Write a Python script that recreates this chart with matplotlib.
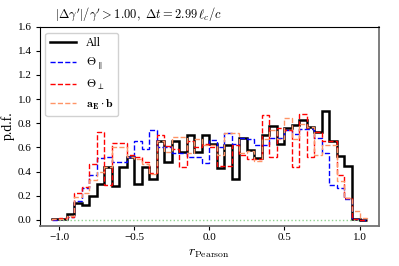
import numpy as np
import matplotlib
matplotlib.use("Agg")
import matplotlib.pyplot as plt

plt.rcParams['font.family'] = 'serif'
plt.rcParams['font.serif'] = ['Liberation Serif', 'DejaVu Serif']
plt.rcParams['mathtext.fontset'] = 'cm'
plt.rcParams['axes.unicode_minus'] = True

# bin edges of the histograms (width 0.05)
edges = np.linspace(-1.05, 1.05, 43)

pdf_all = [0.005, 0.01, 0.045, 0.14, 0.12, 0.20, 0.30, 0.44, 0.28, 0.44,
           0.52, 0.30, 0.44, 0.34, 0.65, 0.48, 0.65, 0.56, 0.70, 0.56,
           0.70, 0.63, 0.43, 0.62, 0.34, 0.675, 0.58, 0.51, 0.70, 0.78,
           0.63, 0.76, 0.785, 0.83, 0.77, 0.73, 0.90, 0.65, 0.53, 0.45,
           0.005, 0.0]
pdf_par = [0.0, 0.005, 0.02, 0.16, 0.26, 0.37, 0.51, 0.52, 0.48, 0.48,
           0.52, 0.65, 0.59, 0.74, 0.60, 0.60, 0.55, 0.55, 0.52, 0.52,
           0.47, 0.66, 0.60, 0.72, 0.63, 0.675, 0.67, 0.62, 0.62, 0.675,
           0.675, 0.74, 0.71, 0.75, 0.75, 0.675, 0.55, 0.29, 0.26, 0.17,
           0.01, 0.0]
pdf_perp = [0.005, 0.015, 0.02, 0.22, 0.27, 0.46, 0.73, 0.29, 0.64, 0.64,
            0.54, 0.52, 0.48, 0.39, 0.70, 0.61, 0.59, 0.44, 0.65, 0.60,
            0.63, 0.60, 0.45, 0.45, 0.62, 0.54, 0.50, 0.50, 0.87, 0.52,
            0.76, 0.74, 0.44, 0.88, 0.52, 0.73, 0.65, 0.65, 0.37, 0.18,
            0.01, 0.0]
pdf_aeb = [0.005, 0.01, 0.03, 0.19, 0.22, 0.33, 0.40, 0.44, 0.60, 0.60,
           0.52, 0.50, 0.46, 0.38, 0.65, 0.56, 0.69, 0.69, 0.55, 0.67,
           0.62, 0.62, 0.54, 0.72, 0.72, 0.55, 0.57, 0.49, 0.67, 0.74,
           0.67, 0.84, 0.67, 0.79, 0.77, 0.54, 0.62, 0.62, 0.32, 0.18,
           0.07, 0.015]

fig = plt.figure(figsize=(3.99, 2.66), dpi=100)
ax = fig.add_axes([0.099, 0.152, 0.851, 0.748])

ax.plot([-1, 1], [0, 0], ls=':', color='#8fd18f', lw=1.0)
ax.stairs(pdf_all, edges, color='k', lw=1.8, label='All')
ax.stairs(pdf_par, edges, color='blue', ls='--', lw=1.0, label=r'$\Theta_\parallel$')
ax.stairs(pdf_perp, edges, color='red', ls='--', lw=1.0, label=r'$\Theta_\perp$')
ax.stairs(pdf_aeb, edges, color='#ff9466', ls='--', lw=1.0,
          label=r'$\mathbf{a_E}\cdot\mathbf{b}$')

ax.set_xlim(-1.13, 1.13)
ax.set_ylim(-0.047, 1.6)
ax.set_xticks([-1.0, -0.5, 0.0, 0.5, 1.0])
ax.set_yticks(np.arange(0, 1.61, 0.2))
ax.tick_params(labelsize=8, length=3, pad=2.5)
ax.set_xlabel(r'$r_{\rm Pearson}$', fontsize=10, labelpad=3)
ax.set_ylabel('p.d.f.', fontsize=10, labelpad=2)
ax.text(0.045, 1.02, r"$|\Delta\gamma'|/\gamma' > 1.00,\ \Delta t = 2.99\,\ell_c/c$",
        transform=ax.transAxes, fontsize=9, ha='left', va='bottom')
for s in ['right', 'bottom']:
    ax.spines[s].set_color('0.45')
    ax.spines[s].set_linewidth(1.3)

ax.legend(loc='upper left', fontsize=8.5, handlelength=2.2, framealpha=0.9)

fig.savefig('out.png', dpi=100)
